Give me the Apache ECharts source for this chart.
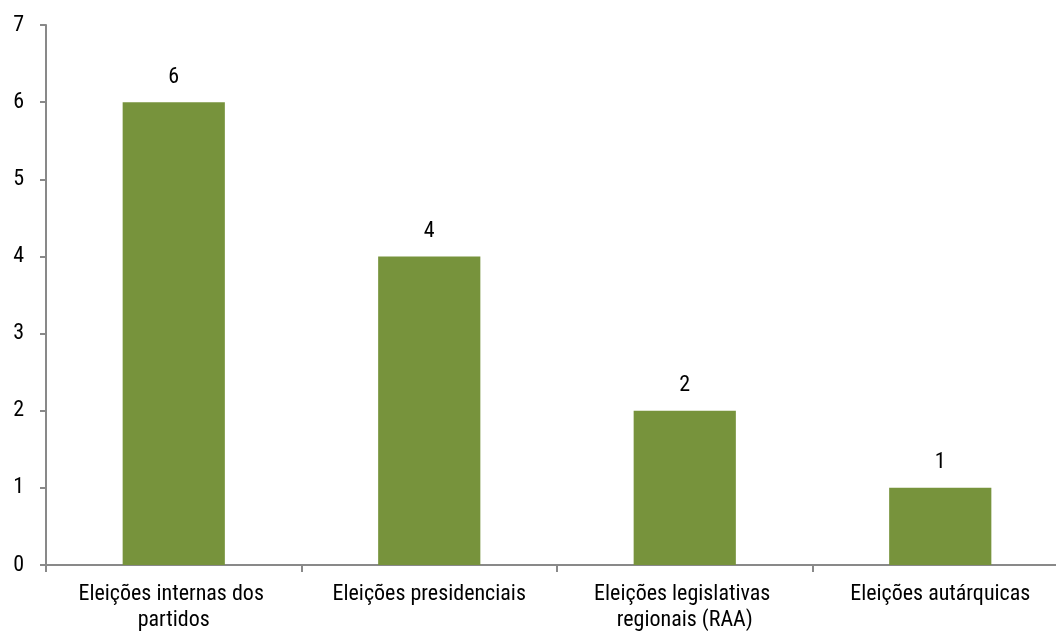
<!DOCTYPE html>
<html>
<head>
<meta charset="utf-8">
<script src="https://cdn.jsdelivr.net/npm/echarts@6/dist/echarts.min.js"></script>
<style>
html,body{margin:0;padding:0;background:#fff;}
#chart{width:1056px;height:634px;}
</style>
</head>
<body>
<div id="chart"></div>
<script>
const categories = ['Eleições internas dos partidos', 'Eleições presidenciais', 'Eleições legislativas regionais (RAA)', 'Eleições autárquicas'];
const values = [6, 4, 2, 1];
const yTicks = [0, 1, 2, 3, 4, 5, 6, 7];

const FONT = "'Liberation Sans Narrow', 'Arial Narrow', 'Roboto Condensed', 'Liberation Sans', sans-serif";
const chart = echarts.init(document.getElementById('chart'));
chart.setOption({
  animation: false,
  backgroundColor: '#ffffff',
  textStyle: { fontFamily: FONT },
  grid: { left: 46, top: 25, width: 1022, height: 540, containLabel: false, outerBoundsMode: 'none' },
  xAxis: {
    type: 'category',
    data: categories,
    axisLine: { show: true, lineStyle: { color: '#898989', width: 2 } },
    axisTick: { show: true, length: 7, alignWithLabel: false, lineStyle: { color: '#898989', width: 2 } },
    axisLabel: {
      color: '#000', fontSize: 22, fontFamily: FONT, margin: 16, lineHeight: 26,
      width: 220, overflow: 'break', interval: 0
    },
    splitLine: { show: false }
  },
  yAxis: {
    type: 'value',
    min: yTicks[0], max: yTicks[yTicks.length - 1], interval: 1,
    axisLine: { show: true, lineStyle: { color: '#898989', width: 2 } },
    axisTick: { show: true, length: 6, lineStyle: { color: '#898989', width: 2 } },
    axisLabel: { color: '#000', fontSize: 22, fontFamily: FONT, margin: 22 },
    splitLine: { show: false }
  },
  series: [{
    type: 'bar',
    data: values,
    barWidth: '40%',
    itemStyle: { color: '#77933C' },
    label: { show: true, position: 'top', distance: 14, color: '#000', fontSize: 22, fontFamily: FONT }
  }]
});
</script>
</body>
</html>
